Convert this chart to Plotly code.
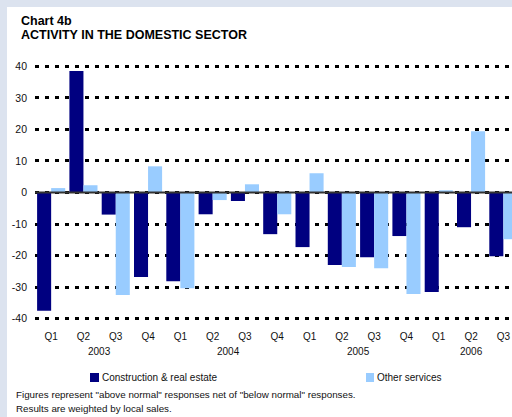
import plotly.graph_objects as go

# ---- data ----
quarters = ["Q1", "Q2", "Q3", "Q4", "Q1", "Q2", "Q3", "Q4",
            "Q1", "Q2", "Q3", "Q4", "Q1", "Q2", "Q3"]
years = ["2003", "2004", "2005", "2006"]
year_pos = [1.5, 5.5, 9.5, 13]
construction = [-37.5, 38.5, -7.0, -26.8, -28.1, -6.9, -2.7, -13.2,
                -17.3, -23.0, -20.5, -13.8, -31.5, -11.0, -20.2]
other_services = [1.4, 2.3, -32.5, 8.3, -30.3, -2.4, 2.6, -6.9,
                  6.1, -23.6, -24.0, -32.2, 0.7, 19.4, -14.8]
series_names = ["Construction & real estate", "Other services"]
series_colors = ["#000080", "#99ccff"]
y_ticks = [40, 30, 20, 10, 0, -10, -20, -30, -40]

# ---- layout geometry (pixels) ----
W, H = 512, 417
L, R, T, B = 35, 0, 65, 97
PW, PH = W - L - R, H - T - B
CAT_W = 32.3


def px(x):
    return (x - L) / PW


def py(y):
    return (H - B - y) / PH


FONT = "Liberation Sans, Arial, sans-serif"
idx = list(range(len(quarters)))

fig = go.Figure()
for vals, name, col in zip([construction, other_services], series_names, series_colors):
    fig.add_trace(go.Bar(x=idx, y=vals, name=name, marker=dict(color=col, line=dict(width=0)),
                         showlegend=False))

xmax = -0.5 + PW / CAT_W

fig.update_layout(
    width=W, height=H,
    margin=dict(l=L, r=R, t=T, b=B, pad=0),
    paper_bgcolor="#dce3ef",
    plot_bgcolor="white",
    barmode="group", bargap=0.13, bargroupgap=0,
    font=dict(family=FONT, size=10, color="#111"),
    xaxis=dict(range=[-0.5, xmax], tickmode="array", tickvals=idx, ticktext=quarters,
               showgrid=False, zeroline=False, showline=False, ticks="",
               ticklabelstandoff=9, tickfont=dict(size=10, family=FONT, color="#111")),
    yaxis=dict(range=[-40.4, 40.4], tickmode="array", tickvals=y_ticks,
               ticktext=[str(v) for v in y_ticks],
               showgrid=True, gridcolor="black", gridwidth=2.5, griddash="4px,6px",
               zeroline=False, showline=False, ticks="", ticklabelstandoff=7,
               tickfont=dict(size=10.5, family=FONT, color="#111")),
)

shapes = [
    # white panel
    dict(type="rect", xref="paper", yref="paper", x0=px(7), x1=px(W + 5), y0=py(H + 5), y1=py(7),
         fillcolor="white", line=dict(width=0), layer="below"),
    # zero line
    dict(type="line", xref="paper", yref="y", x0=0, x1=1, y0=0, y1=0,
         line=dict(color="#333333", width=2), layer="above"),
]
# legend squares
leg_sq = [(90, 99), (366, 374)]
for (x0, x1), col in zip(leg_sq, series_colors):
    shapes.append(dict(type="rect", xref="paper", yref="paper", x0=px(x0), x1=px(x1),
                       y0=py(382), y1=py(373), fillcolor=col, line=dict(width=0)))
fig.update_layout(shapes=shapes)

ann = []
for yr, pos in zip(years, year_pos):
    ann.append(dict(text=yr, x=pos, xref="x", y=py(351), yref="paper", showarrow=False,
                    xanchor="center", yanchor="middle", font=dict(size=10, family=FONT, color="#111")))
for name, xs in zip(series_names, [100, 375]):
    ann.append(dict(text=name, x=px(xs), xref="paper", y=py(377), yref="paper", showarrow=False,
                    xanchor="left", yanchor="middle", font=dict(size=10, family=FONT, color="#111")))
ann.append(dict(text="<b>Chart 4b</b>", x=px(19), xref="paper", y=py(21), yref="paper",
                showarrow=False, xanchor="left", yanchor="middle",
                font=dict(size=12.5, family=FONT, color="black")))
ann.append(dict(text="<b>ACTIVITY IN THE DOMESTIC SECTOR</b>", x=px(19), xref="paper", y=py(35),
                yref="paper", showarrow=False, xanchor="left", yanchor="middle",
                font=dict(size=12.5, family=FONT, color="black")))
ann.append(dict(text='Figures represent "above normal" responses net of "below normal" responses.',
                x=px(14), xref="paper", y=py(394), yref="paper", showarrow=False,
                xanchor="left", yanchor="middle", font=dict(size=9.8, family=FONT, color="#111")))
ann.append(dict(text="Results are weighted by local sales.",
                x=px(14), xref="paper", y=py(408), yref="paper", showarrow=False,
                xanchor="left", yanchor="middle", font=dict(size=9.8, family=FONT, color="#111")))
fig.update_layout(annotations=ann)

fig.write_html("out.html", config={"displayModeBar": False},
               post_script="document.body.style.margin='0';document.body.style.padding='0';"
                           "document.body.style.overflow='hidden';")
